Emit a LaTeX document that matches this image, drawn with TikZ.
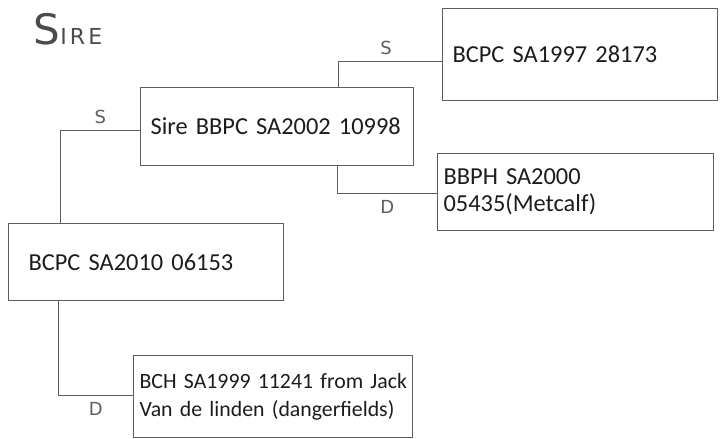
\documentclass[tikz,border=0pt]{standalone}
\usepackage{fontspec}
\setmainfont{Carlito}
\newfontfamily\handfont[LetterSpace=14]{DejaVu Sans}
\usepackage{xcolor}
\definecolor{penline}{HTML}{5E5E5E}
\definecolor{ink}{HTML}{1C1C1C}

\begin{document}
\begin{tikzpicture}[x=0.5pt,y=-0.5pt,
        horse/.style={draw=penline, line width=0.6pt, anchor=north west, align=left, text=ink, font=\fontsize{12.2}{13.6}\selectfont},
        link/.style={draw=penline, line width=0.6pt},
        tag/.style={text=penline, font=\handfont\fontsize{9}{9}\selectfont}]
        \useasboundingbox (0,0) rectangle (723,439);
        \node[text=penline!80!black, font=\handfont] (title) at (68,29) {\fontsize{21}{21}\selectfont S\fontsize{11}{11}\selectfont IRE};

        \node[horse, text width=126.5pt, inner xsep=5pt, minimum height=39pt] (sire) at (140,87) {\mbox{Sire BBPC SA2002 10998}};
        \node[horse, text width=127.5pt, inner xsep=5pt, minimum height=46pt] (bcpc97) at (442,8) {\mbox{BCPC SA1997 28173}};
        \node[horse, text width=132pt, inner xsep=3pt, minimum height=38.5pt] (bbph) at (437,153) {\mbox{BBPH SA2000}\\\mbox{05435(Metcalf)}};
        \node[horse, text width=117.5pt, inner xsep=10pt, minimum height=38.5pt] (bcpc10) at (8,223) {\mbox{BCPC SA2010 06153}};
        \node[horse, text width=133.5pt, inner xsep=3pt, minimum height=41pt, font=\fontsize{10.9}{14}\selectfont] (bch) at (133,355) {\mbox{BCH SA1999 11241 from Jack}\\\mbox{Van de linden (dangerfields)}};

        \draw[link] ([shift={(0,7)}]bcpc97.west) -| node[tag, pos=0.27, above] (s1) {S} ([shift={(61.5,0)}]sire.north);
        \draw[link] ([shift={(60.5,0)}]sire.south) |- node[tag, pos=0.75, below] (d1) {D} ([shift={(0,1.5)}]bbph.west);
        \draw[link] ([shift={(0,4)}]sire.west) -| node[tag, pos=0.25, above] (s2) {S} ([shift={(-85.5,0)}]bcpc10.north);
        \draw[link] ([shift={(-87.5,0)}]bcpc10.south) |- node[tag, pos=0.75, below] (d2) {D} ([shift={(0,-1)}]bch.west);
\end{tikzpicture}
\end{document}
